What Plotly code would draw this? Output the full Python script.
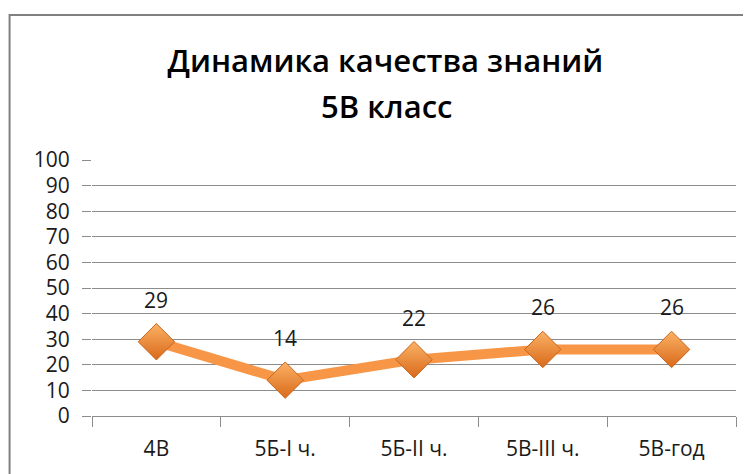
import plotly.graph_objects as go

categories = ["4В", "5Б-I ч.", "5Б-II ч.", "5В-III ч.", "5В-год"]
values = [29, 14, 22, 26, 26]
y_ticks = [0, 10, 20, 30, 40, 50, 60, 70, 80, 90, 100]
title_lines = ["Динамика качества знаний", "5В класс"]

FONT = "Open Sans"
GRID = "#8c8c8c"
TEXT = "#1a1a1a"

fig = go.Figure()
fig.add_trace(go.Scatter(
    x=categories, y=values,
    mode="lines+markers",
    line=dict(color="#F79646", width=10),
    marker=dict(symbol="diamond", size=28, color="#FBB266",
                gradient=dict(type="vertical", color="#D9691A"),
                line=dict(color="#C8651C", width=1)),
    cliponaxis=False,
    hoverinfo="skip",
))

# value labels above the points
for c, v in zip(categories, values):
    fig.add_annotation(x=c, y=v, text=str(v), showarrow=False,
                       yshift=42, font=dict(family=FONT, size=21, color=TEXT))

# second title line, placed by hand for the wider line gap
fig.add_annotation(text=title_lines[1], xref="paper", yref="paper",
                   x=0.458, y=1.21, xanchor="center", yanchor="middle",
                   showarrow=False,
                   font=dict(family=FONT, size=31, weight=600, color="black"))

# the page body has an 8px margin, so the figure is 8px smaller than the window
fig.update_layout(
    width=743, height=466,
    margin=dict(l=84, r=15, t=152, b=58),
    paper_bgcolor="white", plot_bgcolor="white",
    showlegend=False,
    title=dict(text=title_lines[0],
               x=0.508, xanchor="center", y=0.91, yanchor="top",
               font=dict(family=FONT, size=31, weight=600, color="black")),
    font=dict(family=FONT, size=21, color=TEXT),
)
fig.update_xaxes(
    type="category", tickson="boundaries", ticks="outside", ticklen=10,
    tickcolor=GRID, showline=True, linecolor=GRID, linewidth=1,
    showgrid=False, tickfont=dict(size=21), ticklabelstandoff=14,
    range=[-0.5, 4.5],
)
fig.update_yaxes(
    range=[0, 100], tickvals=y_ticks, showgrid=True, gridcolor=GRID,
    gridwidth=1, ticks="outside", ticklen=9, tickcolor=GRID,
    showline=False, zeroline=False, tickfont=dict(size=21),
    ticklabelstandoff=8,
)
# chart area border
fig.add_shape(type="rect", xref="paper", yref="paper",
              x0=-0.128, x1=1.2, y0=-0.5, y1=1.566,
              line=dict(color="#808080", width=2), layer="below")

fig.write_html("out.html")
